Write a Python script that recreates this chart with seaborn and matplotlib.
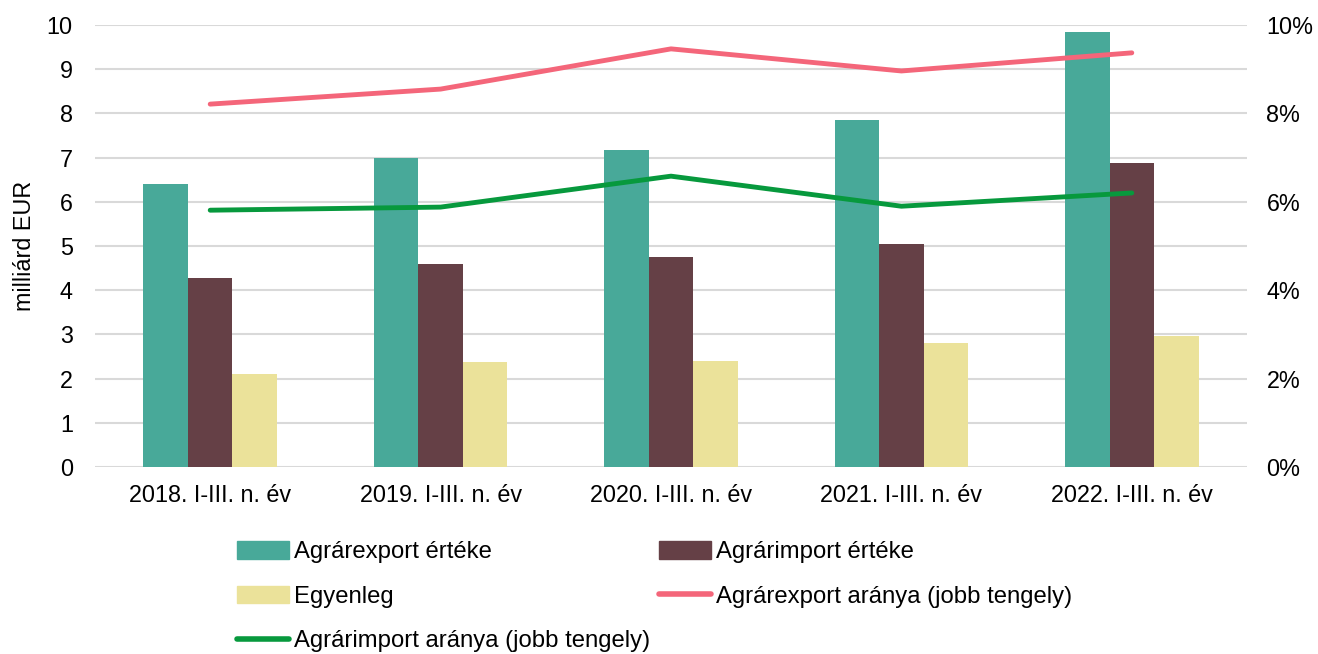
import seaborn as sns
import matplotlib.pyplot as plt
import pandas as pd
from matplotlib.patches import Patch
from matplotlib.lines import Line2D
from matplotlib.ticker import FuncFormatter

# data
periods = ['2018. I-III. n. év', '2019. I-III. n. év', '2020. I-III. n. év',
           '2021. I-III. n. év', '2022. I-III. n. év']
export_value = [6.40, 6.99, 7.17, 7.85, 9.84]
import_value = [4.28, 4.59, 4.75, 5.05, 6.88]
balance = [2.10, 2.38, 2.40, 2.81, 2.96]
export_share = [8.21, 8.55, 9.46, 8.96, 9.37]
import_share = [5.81, 5.88, 6.58, 5.90, 6.20]

bar_names = ['Agrárexport értéke', 'Agrárimport értéke', 'Egyenleg']
bar_colors = ['#48A999', '#654046', '#EBE29A']
export_line_name = 'Agrárexport aránya (jobb tengely)'
import_line_name = 'Agrárimport aránya (jobb tengely)'
pink = '#F4667A'
green = '#07993D'
fs = 16.8

sns.set_style('white')
plt.rcParams['font.family'] = ['Liberation Sans', 'DejaVu Sans']
plt.rcParams['text.color'] = 'black'
plt.rcParams['xtick.color'] = 'black'
plt.rcParams['ytick.color'] = 'black'
plt.rcParams['axes.labelcolor'] = 'black'

df = pd.DataFrame({'period': periods * 3,
                   'series': sum([[n] * len(periods) for n in bar_names], []),
                   'value': export_value + import_value + balance})

fig = plt.figure(figsize=(13.18, 6.54), dpi=100)
ax = fig.add_axes([95 / 1318, 1 - 467 / 654, 1152 / 1318, 442 / 654])

sns.barplot(data=df, x='period', y='value', hue='series', palette=bar_colors,
            width=0.58, ax=ax, legend=False, saturation=1, linewidth=0)
ax.set_xlim(-0.5, len(periods) - 0.5)
ax.set_ylim(0, 10)
ax.set_yticks(range(0, 11))
ax.grid(axis='y', color='#D9D9D9', linewidth=1.5)
ax.set_axisbelow(True)
for s in ax.spines.values():
    s.set_visible(False)
ax.tick_params(axis='both', length=0, labelsize=fs)
ax.tick_params(axis='x', pad=12)
ax.tick_params(axis='y', pad=16)
ax.set_xlabel('')
ax.set_ylabel('milliárd EUR', fontsize=fs, labelpad=8)

ax2 = ax.twinx()
xs = list(range(len(periods)))
sns.lineplot(x=xs, y=export_share, ax=ax2, color=pink, linewidth=3.5,
             solid_capstyle='round')
sns.lineplot(x=xs, y=import_share, ax=ax2, color=green, linewidth=3.5,
             solid_capstyle='round')
ax2.set_ylim(0, 10)
ax2.set_yticks(range(0, 11, 2))
ax2.yaxis.set_major_formatter(FuncFormatter(lambda v, p: f'{v:.0f}%'))
ax2.tick_params(axis='y', length=0, labelsize=fs, pad=14)
for s in ax2.spines.values():
    s.set_visible(False)
ax2.set_xlim(-0.5, len(periods) - 0.5)

handles = [Patch(color=bar_colors[0], label=bar_names[0]),
           Patch(color=bar_colors[2], label=bar_names[2]),
           Line2D([], [], color=green, linewidth=4, solid_capstyle='round', label=import_line_name),
           Patch(color=bar_colors[1], label=bar_names[1]),
           Line2D([], [], color=pink, linewidth=4, solid_capstyle='round', label=export_line_name)]
fig.legend(handles=handles, loc='upper left', bbox_to_anchor=(237 / 1318, 1 - 541 / 654),
           ncol=2, frameon=False, fontsize=17.2, handlelength=2.18, handleheight=0.78,
           handletextpad=0.2, columnspacing=0.38, labelspacing=0.93, borderpad=0,
           borderaxespad=0)

fig.savefig('out.png', dpi=100)
